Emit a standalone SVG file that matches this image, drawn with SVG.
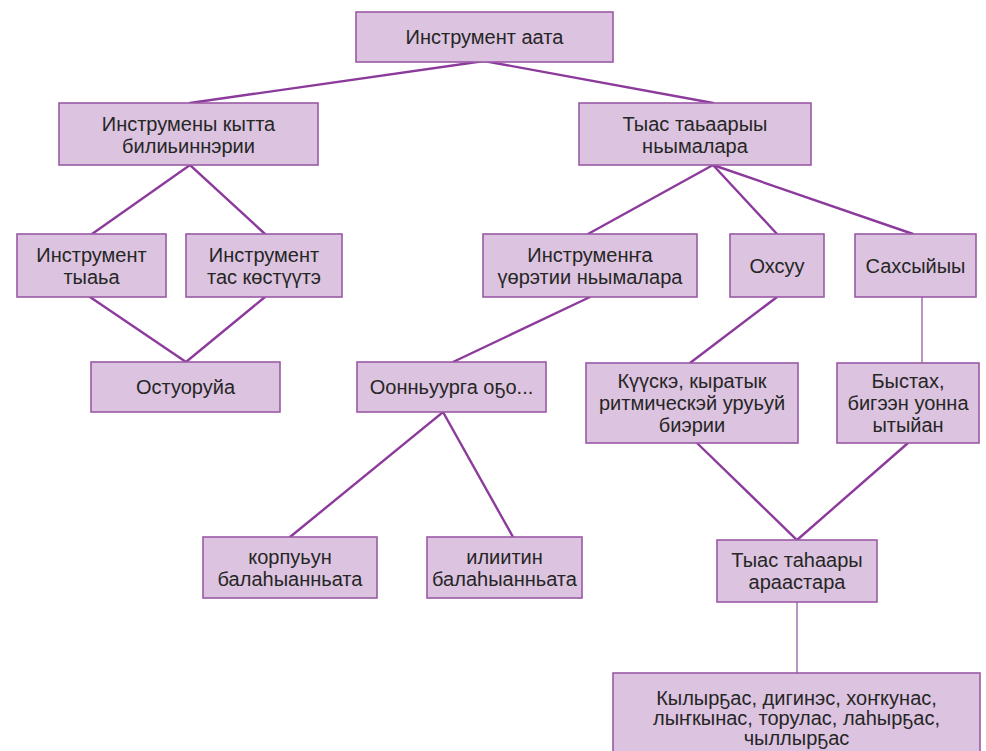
<svg xmlns="http://www.w3.org/2000/svg" width="986" height="751" viewBox="0 0 986 751">
<style>
.box{fill:#dcc3df;stroke:#9a5aa6;stroke-width:1.6}
.t{font-family:"Liberation Sans",Arial,sans-serif;font-size:20px;fill:#262626;text-anchor:middle}
.c{stroke:#8c3a9c;stroke-width:2.4;fill:none;stroke-linecap:round}
.v{stroke:#a56fb0;stroke-width:1.5}
</style>
<rect width="986" height="751" fill="#fff"/>
<g id="connectors">
<polyline class="c" points="190,103 484,61 713,103"/>
<polyline class="c" points="92,234 190,165 265,234"/>
<polyline class="c" points="90,297 186,362 265,297"/>
<line class="c" x1="713" y1="165" x2="588" y2="234"/>
<line class="c" x1="713" y1="165" x2="777" y2="234"/>
<line class="c" x1="713" y1="165" x2="913" y2="234"/>
<line class="c" x1="590" y1="297" x2="453" y2="362"/>
<polyline class="c" points="290,537 443,412 513,537"/>
<line class="c" x1="777" y1="297" x2="690" y2="363"/>
<line class="v" x1="922" y1="297" x2="922" y2="363"/>
<polyline class="c" points="697,443 797,540 908,443"/>
<line class="v" x1="797" y1="602" x2="797" y2="673"/>
</g>
<g id="n1"><rect class="box" x="356" y="12" width="257" height="50"/><text class="t" x="484.5" y="44">Инструмент аата</text></g>
<g id="n2"><rect class="box" x="59" y="103" width="259" height="62"/><text class="t" x="188.5" y="131"><tspan x="188.5">Инструмены кытта</tspan><tspan x="188.5" dy="22">билиьиннэрии</tspan></text></g>
<g id="n3"><rect class="box" x="579" y="103" width="232" height="62"/><text class="t" x="695" y="131"><tspan x="695">Тыас таьаарыы</tspan><tspan x="695" dy="22">ньымалара</tspan></text></g>
<g id="n4"><rect class="box" x="17" y="234" width="149" height="63"/><text class="t" x="91.5" y="262"><tspan x="91.5">Инструмент</tspan><tspan x="91.5" dy="22">тыаьа</tspan></text></g>
<g id="n5"><rect class="box" x="186" y="234" width="156" height="63"/><text class="t" x="264" y="262"><tspan x="264">Инструмент</tspan><tspan x="264" dy="22">тас көстүүтэ</tspan></text></g>
<g id="n6"><rect class="box" x="483" y="234" width="214" height="63"/><text class="t" x="590" y="262"><tspan x="590">Инструменҥа</tspan><tspan x="590" dy="22">үөрэтии ньымалара</tspan></text></g>
<g id="n7"><rect class="box" x="730" y="234" width="94" height="63"/><text class="t" x="777" y="273">Охсуу</text></g>
<g id="n8"><rect class="box" x="855" y="234" width="121" height="63"/><text class="t" x="915.5" y="273">Сахсыйыы</text></g>
<g id="n9"><rect class="box" x="91" y="362" width="189" height="50"/><text class="t" x="185.5" y="394">Остуоруйа</text></g>
<g id="n10"><rect class="box" x="357" y="362" width="189" height="50"/><text class="t" x="451.5" y="394">Оонньуурга оҕо...</text></g>
<g id="n11"><rect class="box" x="586" y="363" width="212" height="80"/><text class="t" x="692" y="388"><tspan x="692">Күүскэ, кыратык</tspan><tspan x="692" dy="22">ритмическэй уруьуй</tspan><tspan x="692" dy="22">биэрии</tspan></text></g>
<g id="n12"><rect class="box" x="837" y="363" width="142" height="80"/><text class="t" x="908" y="388"><tspan x="908">Быстах,</tspan><tspan x="908" dy="22">бигээн уонна</tspan><tspan x="908" dy="22">ытыйан</tspan></text></g>
<g id="n13"><rect class="box" x="203" y="537" width="174" height="61"/><text class="t" x="290" y="564"><tspan x="290">корпуьун</tspan><tspan x="290" dy="22">балаһыанньата</tspan></text></g>
<g id="n14"><rect class="box" x="427" y="537" width="155" height="61"/><text class="t" x="504.5" y="564"><tspan x="504.5">илиитин</tspan><tspan x="504.5" dy="22">балаһыанньата</tspan></text></g>
<g id="n15"><rect class="box" x="717" y="540" width="160" height="62"/><text class="t" x="797" y="567"><tspan x="797">Тыас таһаары</tspan><tspan x="797" dy="22">араастара</tspan></text></g>
<g id="n16"><rect class="box" x="613" y="673" width="367" height="90"/><text class="t" x="796.5" y="705"><tspan x="796.5">Кылырҕас, дигинэс, хоҥкунас,</tspan><tspan x="796.5" dy="20">лыҥкынас, торулас, лаһырҕас,</tspan><tspan x="796.5" dy="20">чыллырҕас</tspan></text></g>
</svg>
